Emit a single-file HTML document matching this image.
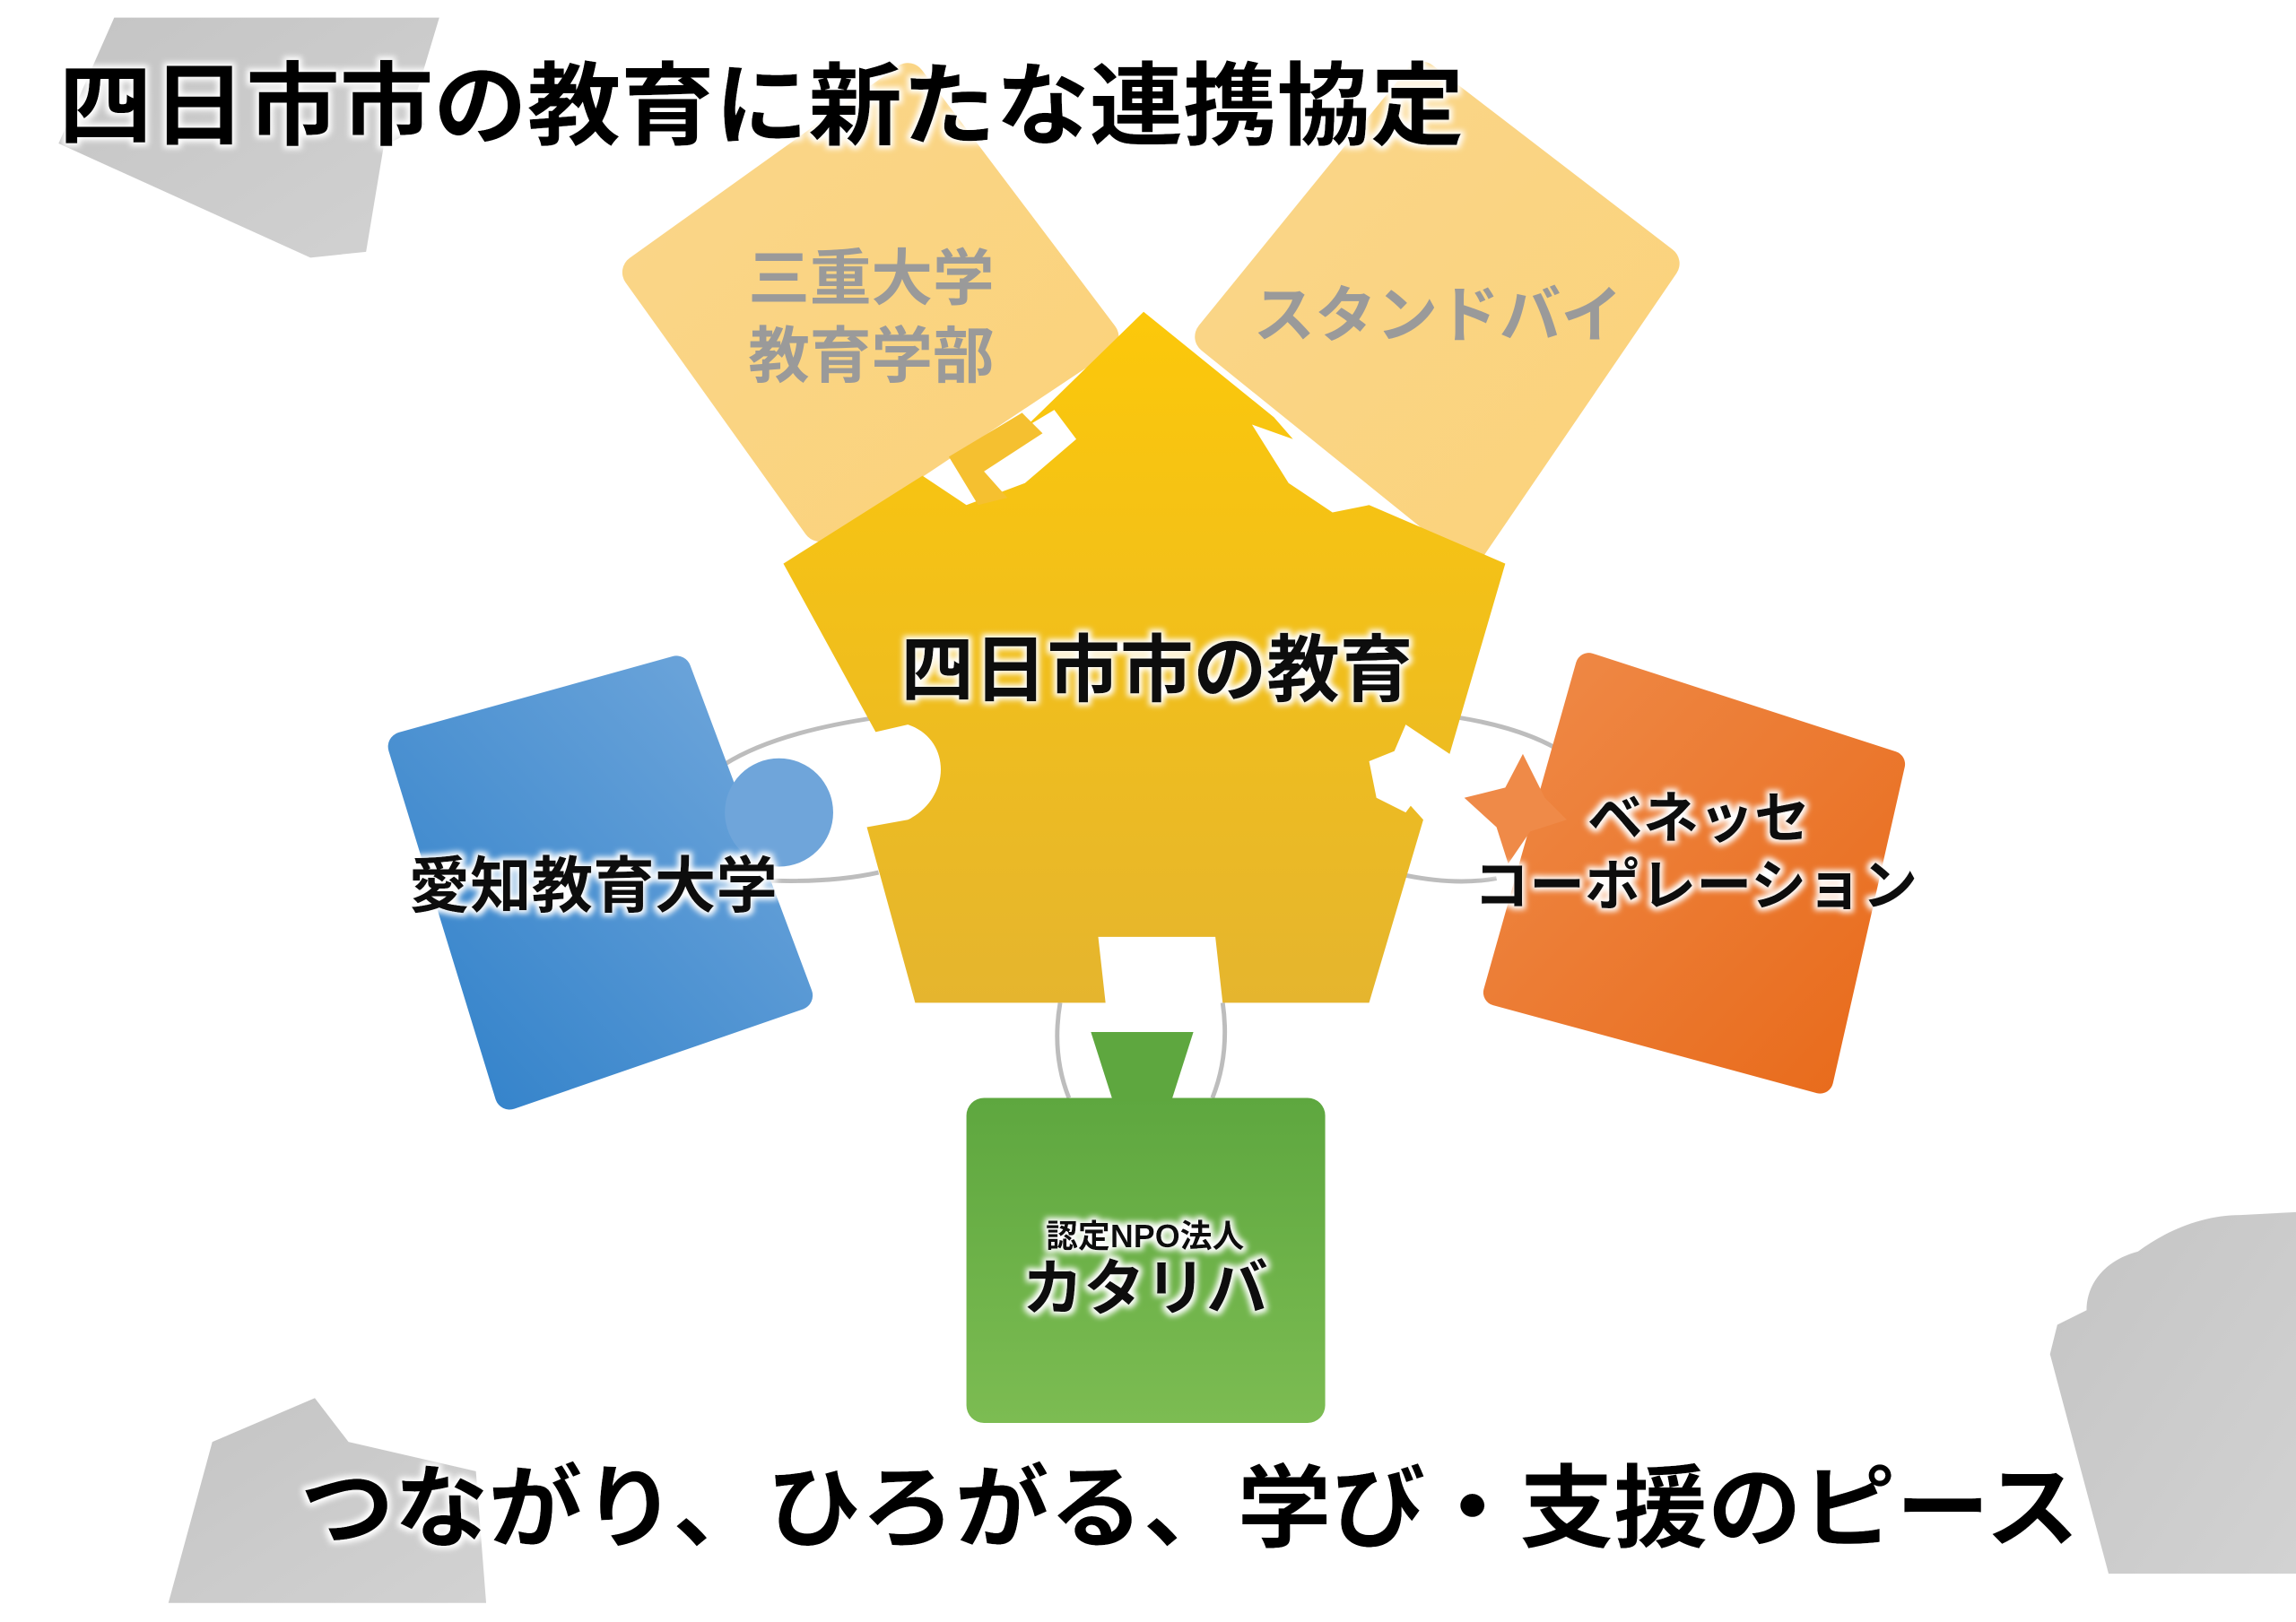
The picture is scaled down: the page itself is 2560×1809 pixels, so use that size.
<!DOCTYPE html>
<html><head><meta charset="utf-8"><style>
html,body{margin:0;padding:0;background:#fff;}
svg{display:block;}
text{font-family:"Liberation Sans","Noto Sans CJK JP",sans-serif;font-weight:bold;}
</style></head><body>
<svg width="2560" height="1809" viewBox="0 0 1568 1108" xmlns="http://www.w3.org/2000/svg">
<defs>
<linearGradient id="gy" x1="0" y1="0" x2="0" y2="1"><stop offset="0" stop-color="#FCC80A"/><stop offset="1" stop-color="#E5B52E"/></linearGradient>
<linearGradient id="ly" x1="0" y1="0" x2="1" y2="1"><stop offset="0" stop-color="#FAD68A"/><stop offset="1" stop-color="#FBD27A"/></linearGradient>
<linearGradient id="gb" x1="0" y1="1" x2="1" y2="0"><stop offset="0" stop-color="#2F80C9"/><stop offset="1" stop-color="#72A8DC"/></linearGradient>
<linearGradient id="go" x1="0" y1="0" x2="1" y2="1"><stop offset="0" stop-color="#EF8A48"/><stop offset="1" stop-color="#E86A1A"/></linearGradient>
<linearGradient id="gg" x1="0" y1="0" x2="0" y2="1"><stop offset="0" stop-color="#5EA73F"/><stop offset="1" stop-color="#7CBC52"/></linearGradient>
<linearGradient id="gr" x1="0" y1="0" x2="1" y2="1"><stop offset="0" stop-color="#C4C4C4"/><stop offset="1" stop-color="#D2D2D2"/></linearGradient>
<filter id="glow" x="-10%" y="-20%" width="120%" height="140%"><feMorphology operator="dilate" radius="2" in="SourceAlpha" result="d"/><feGaussianBlur in="d" stdDeviation="2" result="b"/><feFlood flood-color="#fff"/><feComposite in2="b" operator="in"/><feMerge><feMergeNode/><feMergeNode in="SourceGraphic"/></feMerge></filter>
</defs>
<path d="M78,12 L300,12 L282,72 L290,85 L262,100 L250,172 L212,176 L40,98 Z" fill="url(#gr)"/>
<path d="M145,985 L215,955 L238,985 L325,1005 L332,1095 L115,1095 Z" fill="url(#gr)"/>
<path d="M1568,828 L1530,830 C1505,830 1480,840 1460,855 C1440,860 1425,875 1425,895 L1405,905 L1400,925 L1440,1075 L1568,1075 Z" fill="url(#gr)"/>
<g fill="none" stroke="#BDBDBD" stroke-width="3">
<path d="M600,490 Q530,500 495,522"/>
<path d="M500,600 Q560,605 600,596"/>
<path d="M995,490 Q1045,498 1072,517"/>
<path d="M960,598 Q995,605 1022,600"/>
<path d="M724,685 Q718,720 730,750"/>
<path d="M835,685 Q840,720 828,750"/>
</g>
<path d="M620,55 L752,230 L560,358 L437,186 Z" fill="url(#ly)" stroke="url(#ly)" stroke-width="24" stroke-linejoin="round"/>
<path d="M971,54 L1135,180 L1004,372 L828,230 Z" fill="url(#ly)" stroke="url(#ly)" stroke-width="24" stroke-linejoin="round"/>
<text x="595" y="205" font-size="42" fill="#9A9A9A" text-anchor="middle">三重大学</text>
<text x="595" y="258" font-size="42" fill="#9A9A9A" text-anchor="middle">教育学部</text>
<text x="982" y="230" font-size="42" fill="#9A9A9A" text-anchor="middle">スタンドバイ</text>
<path d="M275,510 L462,458 L545,680 L348,748 Z" fill="url(#gb)" stroke="url(#gb)" stroke-width="20" stroke-linejoin="round"/>
<circle cx="532" cy="555" r="37" fill="#6FA5DA"/>
<path d="M1085,455 L1292,522 L1243,738 L1022,678 Z" fill="url(#go)" stroke="url(#go)" stroke-width="18" stroke-linejoin="round"/>
<path d="M1000,545 L1028,538 L1040,515 L1055,545 L1070,560 L1045,568 L1030,590 L1022,565 Z" fill="#EF8A48"/>
<rect x="660" y="750" width="245" height="222" rx="12" fill="url(#gg)"/>
<path d="M745,705 L815,705 L800,752 L760,752 Z" fill="#5EA73F"/>
<path d="M781,213 L870,285 L883,300 L855,290 L880,330 L910,350 L935,345 L1028,385 L990,515 L960,495 L945,530 L972,560 L935,685 L835,685 L830,640 L750,640 L755,685 L625,685 L592,565 L620,560 C650,545 650,505 620,495 L598,500 L535,385 L630,325 L660,345 L700,330 L735,300 L720,280 L700,292 Z" fill="url(#gy)"/>
<path d="M648,312 L698,282 L712,296 L672,322 L688,340 L668,345 Z" fill="#F5C030"/>
<path d="M935,520 L960,510 L975,535 L960,555 L940,545 Z" fill="#fff"/>
<g filter="url(#glow)">
<text x="40" y="94" font-size="62" fill="#000" textLength="960" lengthAdjust="spacingAndGlyphs">四日市市の教育に新たな連携協定</text>
<text x="790" y="475" font-size="50" fill="#111" text-anchor="middle">四日市市の教育</text>
<text x="405" y="620" font-size="42" fill="#111" text-anchor="middle">愛知教育大学</text>
<text x="1160" y="572" font-size="38" fill="#111" text-anchor="middle">ベネッセ</text>
<text x="1158" y="618" font-size="38" fill="#111" text-anchor="middle">コーポレーション</text>
<text x="782" y="852" font-size="22" fill="#111" text-anchor="middle">認定NPO法人</text>
<text x="782" y="895" font-size="42" fill="#111" text-anchor="middle">カタリバ</text>
<text x="205" y="1052" font-size="62" fill="#000" textLength="1215" lengthAdjust="spacingAndGlyphs">つながり、ひろがる、学び・支援のピース</text>
</g>
</svg>
</body></html>
